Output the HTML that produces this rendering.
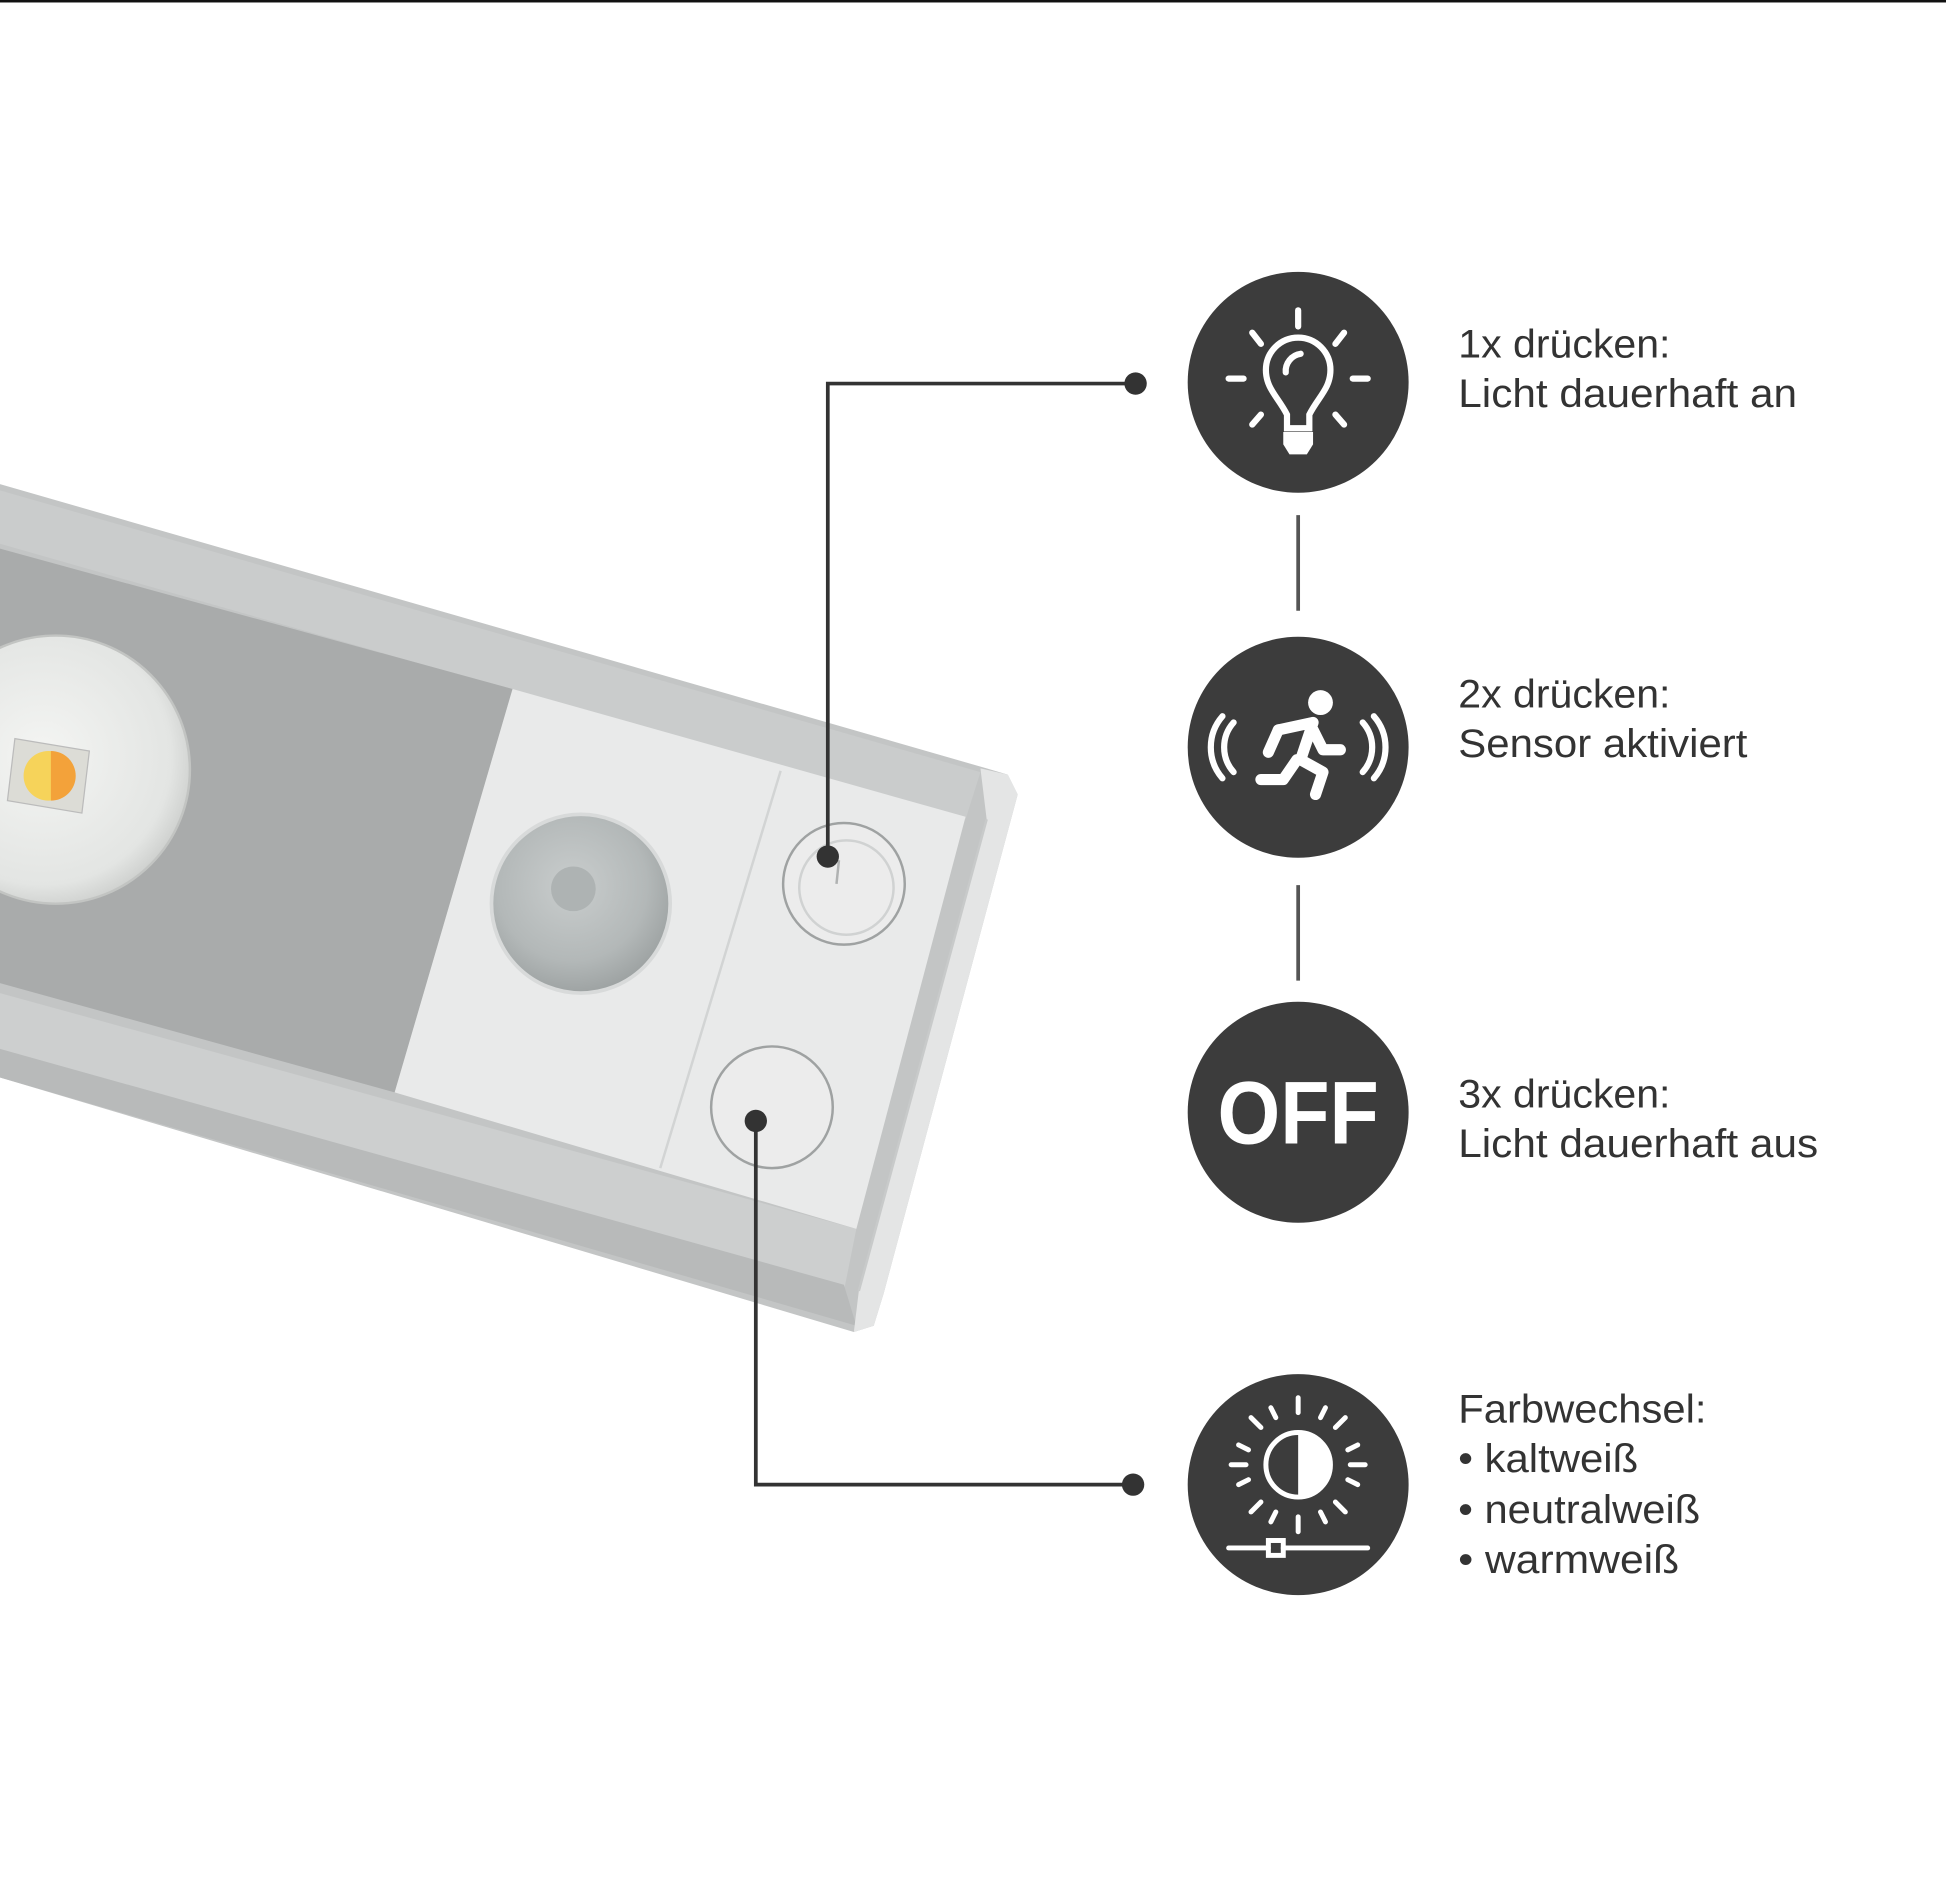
<!DOCTYPE html>
<html><head><meta charset="utf-8"><style>
html,body{margin:0;padding:0;background:#fff;}
svg{display:block;}
text{font-family:"Liberation Sans",sans-serif;}
</style></head><body>
<svg width="1946" height="1898" viewBox="0 0 1568 1529" preserveAspectRatio="none" xmlns="http://www.w3.org/2000/svg">
<defs>
<linearGradient id="rim" x1="0" y1="0" x2="0" y2="1"><stop offset="0" stop-color="#b9bbbb"/><stop offset="0.5" stop-color="#d0d2d2"/><stop offset="1" stop-color="#b5b7b7"/></linearGradient>
<radialGradient id="lens" cx="0.45" cy="0.45" r="0.6"><stop offset="0" stop-color="#f4f5f3"/><stop offset="0.8" stop-color="#e3e5e3"/><stop offset="1" stop-color="#c8cac8"/></radialGradient>
<radialGradient id="pir" cx="0.45" cy="0.4" r="0.6"><stop offset="0" stop-color="#c9cdcd"/><stop offset="0.7" stop-color="#b3b8b8"/><stop offset="1" stop-color="#9ea3a3"/></radialGradient>
</defs>
<rect x="0" y="0" width="1568" height="2" fill="#111"/>
<!-- body -->
<polygon points="0,390 795,619 812,624 820,640 712,1042 704,1068 688,1073 0,868" fill="#c3c5c5"/>
<polygon points="0,395 790,622 778,660 0,438" fill="#cacccc"/>
<polygon points="0,800 690,990 680,1040 0,850" fill="#cdcfcf"/>
<polygon points="0,845 680,1035 690,1068 0,868" fill="#b8baba"/>
<!-- grey panel -->
<polygon points="0,442 413,555 318,880 0,792" fill="#a9abab"/>
<!-- white module -->
<polygon points="413,555 778,658 690,990 318,880" fill="#e9eaea"/>
<line x1="629" y1="621" x2="532" y2="941" stroke="#d2d4d4" stroke-width="2"/>
<!-- end cap -->
<polygon points="790,619 812,624 820,640 712,1042 704,1068 688,1073 692,1040 795,660" fill="#e4e5e5"/>
<line x1="795" y1="660" x2="692" y2="1040" stroke="#c8caca" stroke-width="2"/>
<!-- LED lens -->
<circle cx="45" cy="620" r="108" fill="url(#lens)" stroke="#c2c4c2" stroke-width="2"/>
<polygon points="12,595 72,605 66,655 6,645" fill="#dcdcd6" stroke="#bbb" stroke-width="1"/>
<circle cx="39" cy="625" r="20" fill="#f6d35a"/>
<path d="M41,605 A20,20 0 0 1 41,645 Z" fill="#f3a23a"/>
<!-- PIR -->
<circle cx="468" cy="728" r="72" fill="url(#pir)" stroke="#d8dada" stroke-width="3"/>
<circle cx="462" cy="716" r="18" fill="#aeb3b3"/>
<!-- buttons -->
<circle cx="680" cy="712" r="49" fill="#ececec" stroke="#9fa2a2" stroke-width="2"/>
<circle cx="682" cy="715" r="38" fill="none" stroke="#d0d2d2" stroke-width="2"/>
<line x1="676" y1="693" x2="674" y2="712" stroke="#b0b2b2" stroke-width="2"/>
<circle cx="622" cy="892" r="49" fill="#ececec" stroke="#9fa2a2" stroke-width="2"/>
<!-- connectors -->
<g stroke="#333" stroke-width="3" fill="none">
<polyline points="915,309 667,309 667,690"/>
<polyline points="913,1196 609,1196 609,903"/>
<line x1="1046" y1="415" x2="1046" y2="492" stroke="#555"/>
<line x1="1046" y1="713" x2="1046" y2="790" stroke="#555"/>
</g>
<g fill="#333">
<circle cx="915" cy="309" r="9"/><circle cx="667" cy="690" r="9"/>
<circle cx="913" cy="1196" r="9"/><circle cx="609" cy="903" r="9"/>
</g>
<!-- circles -->
<g fill="#3c3c3c">
<circle cx="1046" cy="308" r="89"/>
<circle cx="1046" cy="602" r="89"/>
<circle cx="1046" cy="896" r="89"/>
<circle cx="1046" cy="1196" r="89"/>
</g>
<!-- bulb icon -->
<g stroke="#fff" stroke-width="5" stroke-linecap="round" fill="none">
<line x1="1046" y1="250" x2="1046" y2="263"/>
<line x1="990" y1="305" x2="1002" y2="305"/>
<line x1="1090" y1="305" x2="1102" y2="305"/>
<line x1="1009" y1="268" x2="1016" y2="277"/>
<line x1="1083" y1="268" x2="1076" y2="277"/>
<line x1="1009" y1="342" x2="1016" y2="334"/>
<line x1="1083" y1="342" x2="1076" y2="334"/>
<path d="M1037,345 L1037,334 C1030,320 1020,313 1020,298 A26,26 0 0 1 1072,298 C1072,313 1062,320 1055,334 L1055,345 Z"/>
<path d="M1036,300 A14,14 0 0 1 1048,285"/>
</g>
<path d="M1034,348 H1058 V358 L1053,366 H1039 L1034,358 Z" fill="#fff"/>
<!-- running man icon -->
<g stroke="#fff" stroke-linecap="round" stroke-linejoin="round" fill="none">
<g stroke-width="5">
<path d="M994,582 A30,30 0 0 0 994,622"/>
<path d="M985,577 A38,38 0 0 0 985,627"/>
<path d="M1098,582 A30,30 0 0 1 1098,622"/>
<path d="M1107,577 A38,38 0 0 1 1107,627"/>
</g>
<g stroke-width="9">
<path d="M1030,588 L1058,582 L1048,612 L1066,622 L1060,640"/>
<path d="M1045,612 L1034,628 L1016,628"/>
<path d="M1030,588 L1022,606"/>
<path d="M1058,588 L1066,604 L1080,604"/>
</g>
</g>
<circle cx="1064" cy="566" r="10" fill="#fff"/>
<!-- OFF -->
<text x="1046" y="921" text-anchor="middle" font-size="72" font-weight="bold" fill="#fff" textLength="130" lengthAdjust="spacingAndGlyphs">OFF</text>
<!-- sun/contrast icon -->
<g stroke="#fff" stroke-width="4" stroke-linecap="round" fill="none">
<circle cx="1046" cy="1180" r="26"/>
<line x1="1046" y1="1126" x2="1046" y2="1138"/>
<line x1="1046" y1="1222" x2="1046" y2="1234"/>
<line x1="992" y1="1180" x2="1004" y2="1180"/>
<line x1="1088" y1="1180" x2="1100" y2="1180"/>
<line x1="1008" y1="1142" x2="1016" y2="1150"/>
<line x1="1084" y1="1142" x2="1076" y2="1150"/>
<line x1="1008" y1="1218" x2="1016" y2="1210"/>
<line x1="1084" y1="1218" x2="1076" y2="1210"/>
<line x1="1024" y1="1134" x2="1028" y2="1142"/>
<line x1="1068" y1="1134" x2="1064" y2="1142"/>
<line x1="1024" y1="1226" x2="1028" y2="1218"/>
<line x1="1068" y1="1226" x2="1064" y2="1218"/>
<line x1="998" y1="1164" x2="1006" y2="1168"/>
<line x1="1094" y1="1164" x2="1086" y2="1168"/>
<line x1="998" y1="1196" x2="1006" y2="1192"/>
<line x1="1094" y1="1196" x2="1086" y2="1192"/>
<line x1="990" y1="1247" x2="1022" y2="1247"/>
<line x1="1034" y1="1247" x2="1102" y2="1247"/>
<rect x="1022" y="1241" width="12" height="12"/>
</g>
<path d="M1046,1154 A26,26 0 0 1 1046,1206 Z" fill="#fff"/>
<!-- labels -->
<g font-size="32" fill="#333" lengthAdjust="spacingAndGlyphs">
<text x="1175" y="288" textLength="171" lengthAdjust="spacingAndGlyphs">1x drücken:</text>
<text x="1175" y="328" textLength="273" lengthAdjust="spacingAndGlyphs">Licht dauerhaft an</text>
<text x="1175" y="570" textLength="171" lengthAdjust="spacingAndGlyphs">2x drücken:</text>
<text x="1175" y="610" textLength="233" lengthAdjust="spacingAndGlyphs">Sensor aktiviert</text>
<text x="1175" y="892" textLength="171" lengthAdjust="spacingAndGlyphs">3x drücken:</text>
<text x="1175" y="932" textLength="290" lengthAdjust="spacingAndGlyphs">Licht dauerhaft aus</text>
<text x="1175" y="1146" textLength="200" lengthAdjust="spacingAndGlyphs">Farbwechsel:</text>
<text x="1175" y="1186" textLength="145" lengthAdjust="spacingAndGlyphs">• kaltweiß</text>
<text x="1175" y="1227" textLength="195" lengthAdjust="spacingAndGlyphs">• neutralweiß</text>
<text x="1175" y="1267" textLength="178" lengthAdjust="spacingAndGlyphs">• warmweiß</text>
</g>
</svg>
</body></html>
